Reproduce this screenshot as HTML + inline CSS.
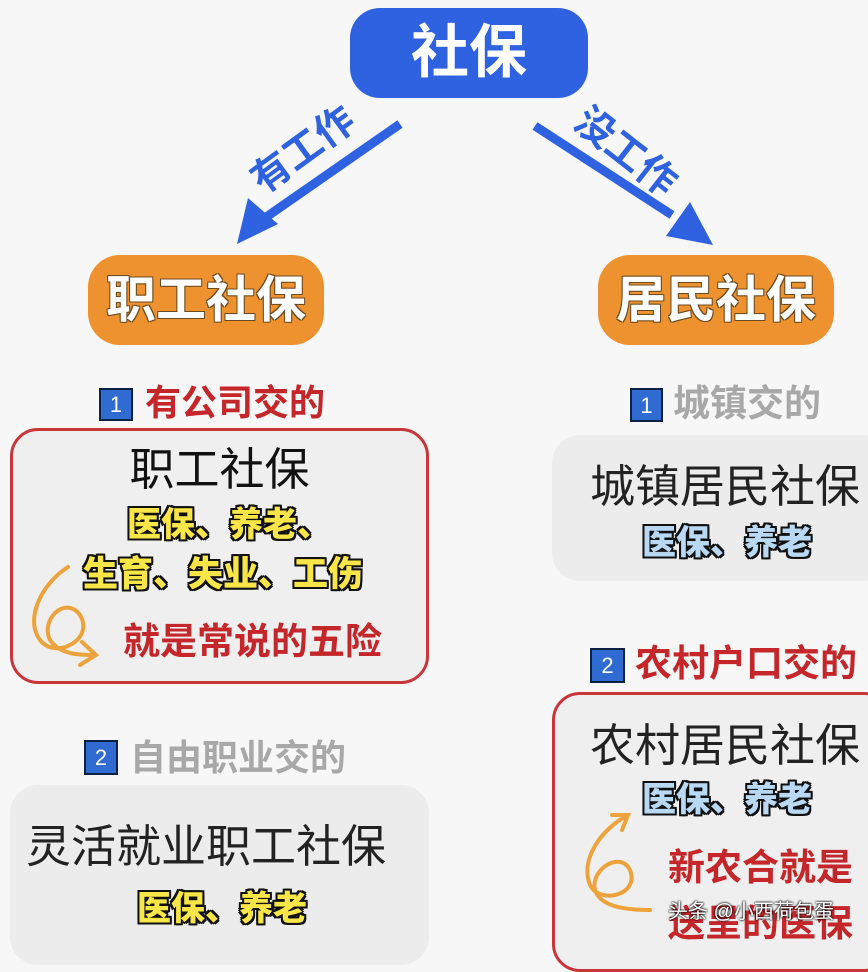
<!DOCTYPE html>
<html><head><meta charset="utf-8"><style>
body{margin:0;width:868px;height:944px;overflow:hidden;background:#f7f7f7;position:relative;font-family:"Liberation Sans","Noto Sans CJK SC",sans-serif}
.a{position:absolute;white-space:nowrap}
.box{position:absolute;box-sizing:border-box}
.t{font-weight:bold}
.y{color:#f8e547;font-weight:900;text-shadow:-2px -2px 0 #111,2px -2px 0 #111,-2px 2px 0 #111,2px 2px 0 #111,0 2px 0 #111,0 -2px 0 #111,2px 0 0 #111,-2px 0 0 #111}
.b{color:#b8d8f4;font-weight:900;text-shadow:-2px -2px 0 #111,2px -2px 0 #111,-2px 2px 0 #111,2px 2px 0 #111,0 2px 0 #111,0 -2px 0 #111,2px 0 0 #111,-2px 0 0 #111}
.w{color:#fff;text-shadow:-1px -1px 0 #6a4a20,1px 1px 0 #6a4a20,1px -1px 0 #6a4a20,-1px 1px 0 #6a4a20}
.sq{position:absolute;background:#2f6bd0;border:2px solid #0d2142;color:#fff;font-size:22px;text-align:center;box-sizing:border-box}
</style></head><body>
<div class="box" style="left:350px;top:8px;width:238px;height:90px;background:#2f62e0;border-radius:30px"></div>
<div class="a t" style="left:350px;top:14px;width:238px;text-align:center;font-size:58px;line-height:78px;color:#fff">社保</div>
<div class="a t" style="left:244px;top:168px;font-size:39px;line-height:42px;color:#2f62e0;transform:rotate(-36deg);transform-origin:left top">有工作</div>
<div class="a t" style="left:592px;top:100px;font-size:39px;line-height:42px;color:#2f62e0;transform:rotate(38deg);transform-origin:left top">没工作</div>
<div class="box" style="left:88px;top:255px;width:236px;height:90px;background:#ee922f;border-radius:32px"></div>
<div class="a t w" style="left:88px;top:265px;width:236px;text-align:center;font-size:50px;line-height:70px">职工社保</div>
<div class="box" style="left:598px;top:255px;width:236px;height:90px;background:#ee922f;border-radius:32px"></div>
<div class="a t w" style="left:598px;top:265px;width:236px;text-align:center;font-size:50px;line-height:70px">居民社保</div>

<div class="sq" style="left:99px;top:388px;width:34px;height:33px;line-height:30px">1</div>
<div class="a t" style="left:145px;top:383px;font-size:36px;line-height:40px;color:#c4262a">有公司交的</div>
<div class="box" style="left:10px;top:428px;width:419px;height:256px;border:3px solid #c8363a;border-radius:28px;background:#efefef"></div>
<div class="a" style="left:10px;top:443px;width:419px;text-align:center;font-size:45px;line-height:54px;color:#111">职工社保</div>
<div class="a y" style="left:127px;top:505px;font-size:34px;line-height:40px">医保、养老、</div>
<div class="a y" style="left:83px;top:555px;font-size:35px;line-height:40px">生育、失业、工伤</div>
<div class="a t" style="left:123px;top:622px;font-size:37px;line-height:40px;color:#c4262a">就是常说的五险</div>

<div class="sq" style="left:84px;top:740px;width:34px;height:35px;line-height:32px">2</div>
<div class="a t" style="left:130px;top:737px;font-size:36px;line-height:42px;color:#a8a8a8">自由职业交的</div>
<div class="box" style="left:10px;top:785px;width:419px;height:180px;border-radius:28px;background:#ececec"></div>
<div class="a" style="left:26px;top:820px;font-size:45px;line-height:54px;color:#222">灵活就业职工社保</div>
<div class="a y" style="left:137px;top:889px;font-size:34px;line-height:40px">医保、养老</div>

<div class="sq" style="left:630px;top:388px;width:33px;height:34px;line-height:31px">1</div>
<div class="a t" style="left:673px;top:384px;font-size:37px;line-height:40px;color:#a8a8a8">城镇交的</div>
<div class="box" style="left:552px;top:435px;width:340px;height:146px;border-radius:28px;background:#ececec"></div>
<div class="a" style="left:590px;top:460px;font-size:45px;line-height:54px;color:#222">城镇居民社保</div>
<div class="a b" style="left:642px;top:523px;font-size:34px;line-height:40px">医保、养老</div>

<div class="sq" style="left:590px;top:648px;width:35px;height:35px;line-height:32px">2</div>
<div class="a t" style="left:635px;top:644px;font-size:37px;line-height:40px;color:#c4262a">农村户口交的</div>
<div class="box" style="left:552px;top:692px;width:340px;height:280px;border:3px solid #c8363a;border-radius:28px;background:#efefef"></div>
<div class="a" style="left:590px;top:719px;font-size:45px;line-height:54px;color:#222">农村居民社保</div>
<div class="a b" style="left:642px;top:780px;font-size:34px;line-height:40px">医保、养老</div>
<div class="a t" style="left:668px;top:847px;font-size:37px;line-height:42px;color:#c4262a">新农合就是</div>
<div class="a t" style="left:668px;top:903px;font-size:37px;line-height:42px;color:#c4262a">送呈的医保</div>
<div class="a" style="left:668px;top:898px;font-size:20px;line-height:28px;color:#fff;text-shadow:0 0 2px #000,0 0 2px #000">头条 @小西荷包蛋</div>

<svg class="a" style="left:0;top:0" width="868" height="944">
<g fill="#2f62e0" stroke="#2f62e0">
<line x1="400" y1="124" x2="262" y2="220" stroke-width="9"/>
<polygon points="237,244 248,198 278,224" stroke="none"/>
<line x1="535" y1="126" x2="672" y2="215" stroke-width="9"/>
<polygon points="713,245 666,236 690,202" stroke="none"/>
</g>
<g fill="none" stroke="#eda23c" stroke-width="4" stroke-linecap="round">
<path d="M68,567 C40,585 25,620 40,640 C55,660 95,640 80,615 C65,595 40,620 50,640 C60,655 80,655 95,655"/>
<path d="M82,642 L96,655 L80,665"/>
<path d="M628,815 C600,830 580,860 590,885 C600,905 640,895 630,870 C620,850 590,870 595,890 C600,905 620,910 650,910"/>
<path d="M612,815 L628,815 L622,830"/>
</g>
</svg>
</body></html>
